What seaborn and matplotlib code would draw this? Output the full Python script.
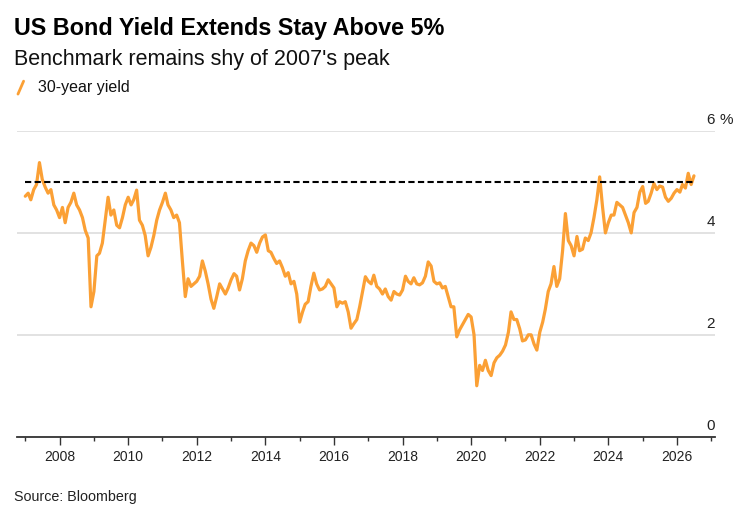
import pandas as pd
import matplotlib.pyplot as plt
import matplotlib.dates as mdates
import matplotlib.transforms as mtransforms
import seaborn as sns

# Monthly 30-year yield readings (%), Jan 2007 onwards
y2007 = [4.72, 4.78, 4.65, 4.85, 4.95, 5.38, 5.05, 4.90, 4.78, 4.85, 4.55, 4.45]
y2008 = [4.30, 4.50, 4.20, 4.50, 4.60, 4.78, 4.55, 4.45, 4.30, 4.05, 3.90, 2.55]
y2009 = [2.85, 3.55, 3.60, 3.80, 4.25, 4.70, 4.35, 4.45, 4.15, 4.10, 4.30, 4.55]
y2010 = [4.70, 4.55, 4.65, 4.84, 4.25, 4.15, 3.95, 3.55, 3.72, 3.95, 4.25, 4.45]
y2011 = [4.60, 4.78, 4.55, 4.45, 4.30, 4.35, 4.20, 3.45, 2.75, 3.10, 2.95, 3.00]
y2012 = [3.05, 3.15, 3.45, 3.25, 3.00, 2.70, 2.52, 2.75, 3.00, 2.90, 2.80, 2.92]
y2013 = [3.08, 3.20, 3.15, 2.88, 3.10, 3.45, 3.65, 3.80, 3.75, 3.62, 3.80, 3.92]
y2014 = [3.96, 3.65, 3.62, 3.50, 3.40, 3.45, 3.32, 3.15, 3.22, 3.00, 3.05, 2.80]
y2015 = [2.25, 2.45, 2.60, 2.65, 2.95, 3.21, 3.00, 2.88, 2.90, 2.95, 3.08, 3.00]
y2016 = [2.92, 2.55, 2.65, 2.62, 2.65, 2.45, 2.13, 2.22, 2.30, 2.55, 2.85, 3.14]
y2017 = [3.05, 3.00, 3.17, 2.95, 2.90, 2.80, 2.90, 2.75, 2.68, 2.85, 2.80, 2.78]
y2018 = [2.88, 3.15, 3.05, 3.00, 3.12, 3.00, 2.98, 3.02, 3.15, 3.43, 3.35, 3.05]
y2019 = [3.00, 3.02, 2.92, 2.95, 2.75, 2.55, 2.55, 1.96, 2.10, 2.20, 2.30, 2.40]
y2020 = [2.35, 2.00, 1.00, 1.40, 1.30, 1.50, 1.30, 1.20, 1.45, 1.55, 1.60, 1.68]
y2021 = [1.80, 2.05, 2.45, 2.30, 2.30, 2.12, 1.88, 1.90, 2.00, 2.00, 1.82, 1.70]
y2022 = [2.05, 2.25, 2.50, 2.85, 3.00, 3.34, 2.95, 3.10, 3.65, 4.38, 3.85, 3.75]
y2023 = [3.55, 3.93, 3.65, 3.68, 3.90, 3.85, 4.00, 4.30, 4.65, 5.10, 4.50, 4.00]
y2024 = [4.20, 4.35, 4.35, 4.60, 4.55, 4.50, 4.35, 4.20, 4.00, 4.40, 4.50, 4.80]
y2025 = [4.91, 4.58, 4.62, 4.78, 4.97, 4.85, 4.92, 4.90, 4.70, 4.62, 4.68, 4.78]
y2026 = [4.85, 4.80, 4.95, 4.88, 5.17, 4.95, 5.12]

threshold = 5
y_ticks = [0, 2, 4, 6]

yields = (y2007 + y2008 + y2009 + y2010 + y2011 + y2012 + y2013 + y2014 + y2015
          + y2016 + y2017 + y2018 + y2019 + y2020 + y2021 + y2022 + y2023
          + y2024 + y2025 + y2026)
df = pd.DataFrame({
    "date": pd.date_range("2007-01-01", periods=len(yields), freq="MS"),
    "yield": yields,
})

sns.set_theme(style="white")
plt.rcParams["font.family"] = ["Liberation Sans", "DejaVu Sans"]

orange = "#FBA035"

fig = plt.figure(figsize=(7.49, 5.17), dpi=100)
ax = fig.add_axes([0.0227, 0.1553, 0.9319, 0.5913])

sns.lineplot(data=df, x="date", y="yield", color=orange, linewidth=2.3, ax=ax)
ax.hlines(threshold, df["date"].iloc[0], df["date"].iloc[-1], colors="black",
          linestyles=(0, (3, 1.6)), linewidth=1.5, zorder=3)

ax.set_xlim(pd.Timestamp("2006-10-05"), pd.Timestamp("2027-02-10"))
ax.set_ylim(0, 6)
ax.set_xlabel("")
ax.set_ylabel("")

# x axis
ax.xaxis.set_major_locator(mdates.YearLocator(2))
ax.xaxis.set_minor_locator(mdates.YearLocator(1))
ax.xaxis.set_major_formatter(mdates.DateFormatter("%Y"))
ax.tick_params(axis="x", which="major", length=5.5, width=1, color="#333333",
               labelsize=10, labelcolor="#222222", pad=4, bottom=True)
ax.tick_params(axis="x", which="minor", length=3, width=1, color="#333333",
               bottom=True)

# y grid and labels drawn above the lines on the right
ax.set_yticks(y_ticks)
ax.tick_params(axis="y", left=False, right=False, labelleft=False)
ax.grid(axis="y", color="#DDDDDD", linewidth=1.2)
ax.set_axisbelow(True)
for s in ["left", "right", "top"]:
    ax.spines[s].set_visible(False)
ax.spines["bottom"].set_color("#333333")
ax.spines["bottom"].set_linewidth(1.3)

trans = mtransforms.blended_transform_factory(ax.transAxes, ax.transData)
for t in y_ticks:
    ax.annotate(str(t), xy=(1.0, t), xycoords=trans, xytext=(0, 8),
                textcoords="offset points", ha="right", va="center",
                fontsize=11, color="#222222", annotation_clip=False)
ax.annotate("%", xy=(1.0, y_ticks[-1]), xycoords=trans, xytext=(3, 8),
            textcoords="offset points", ha="left", va="center",
            fontsize=11, color="#222222", annotation_clip=False)

# titles, legend, source
fig.text(0.0187, 0.945, "US Bond Yield Extends Stay Above 5%", fontsize=16.8,
         fontweight="bold", color="black", va="center")
fig.text(0.0187, 0.885, "Benchmark remains shy of 2007's peak", fontsize=15.5,
         color="#111111", va="center")
fig.lines.append(plt.Line2D([0.024, 0.0315], [0.818, 0.843], color=orange,
                            linewidth=2, transform=fig.transFigure))
fig.text(0.0507, 0.830, "30-year yield", fontsize=11.5, color="#111111",
         va="center")
fig.text(0.0187, 0.039, "Source: Bloomberg", fontsize=10.3, color="#222222",
         va="center")

plt.savefig("out.png", dpi=100)
